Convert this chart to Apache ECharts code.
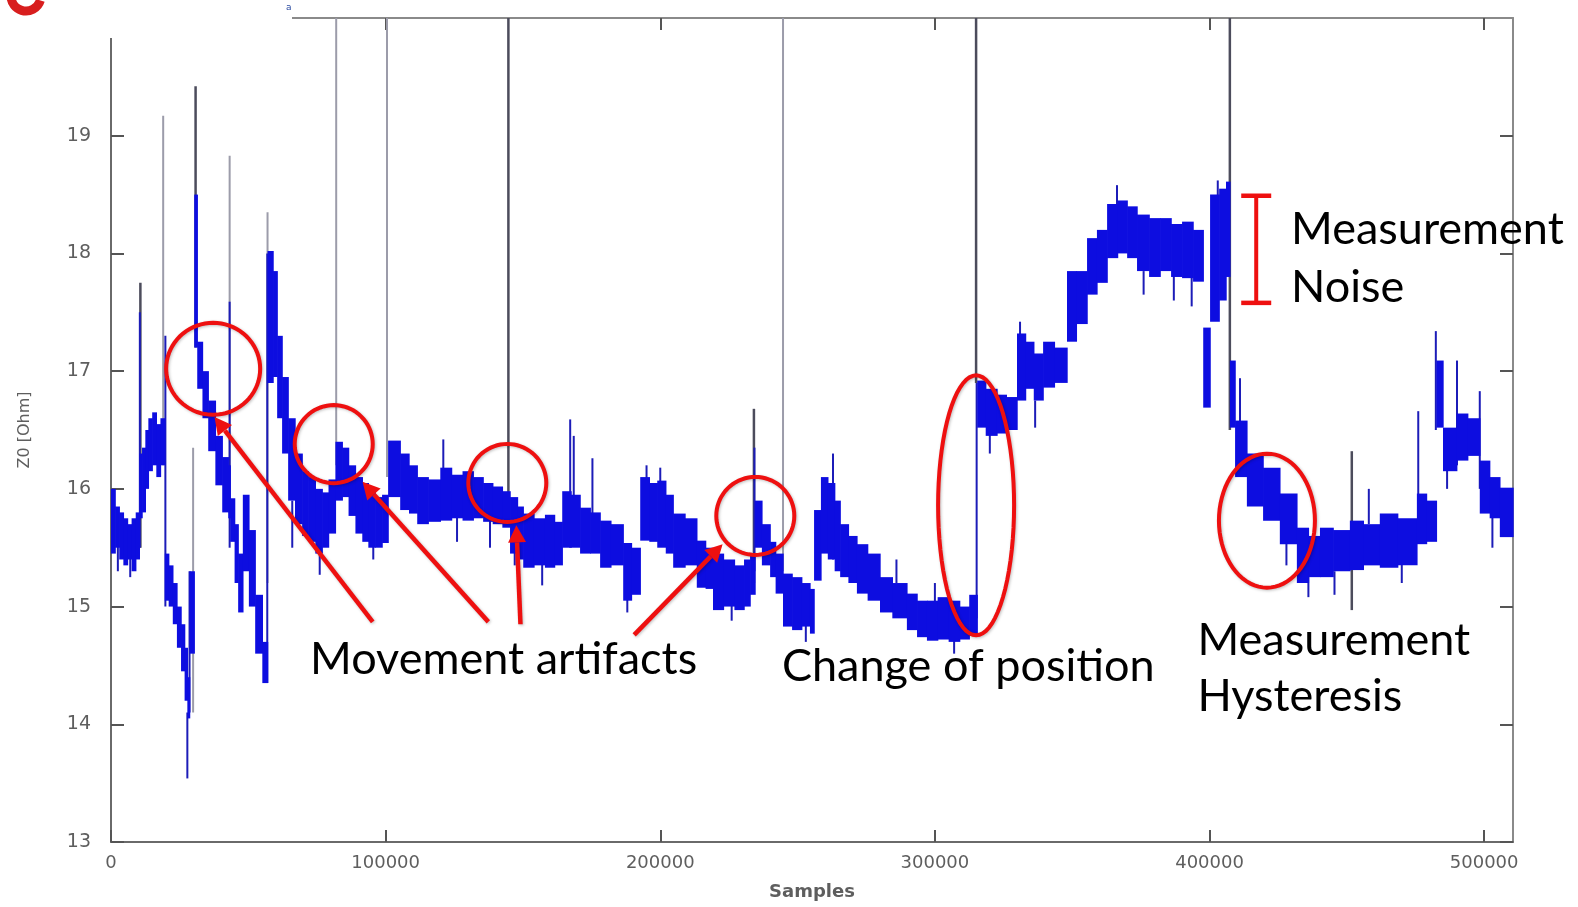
<!DOCTYPE html>
<html><head><meta charset="utf-8">
<script src="https://cdn.jsdelivr.net/npm/echarts@6/dist/echarts.min.js"></script>
<style>html,body{margin:0;padding:0;background:#fff}#c{width:1578px;height:907px}</style>
</head><body><div id="c"></div><script>
// ---- axis ticks ----
const xTicks = [0, 100000, 200000, 300000, 400000, 500000];
const yTicks = [13, 14, 15, 16, 17, 18, 19];
const X_MIN = 0, X_MAX = 510500, Y_MIN = 13, Y_MAX = 20;

// ---- Z0 signal: noise band per column (start sample, low, high) ----
const bandX = [0,1500,3000,4500,6000,7500,9000,10300,11300,12500,13600,15000,16500,18000,19600,21000,22500,24000,25500,26800,27800,28600,30300,31400,33300,35400,38000,40500,42700,43400,45000,46300,48000,50200,52500,55100,57000,59000,60500,62300,64500,67000,69600,71800,74400,76900,79200,81700,84200,86500,89000,91500,93700,96200,98700,100900,105300,108500,111500,115500,119900,124000,128000,131900,135500,139000,142500,145300,148000,150100,154000,158000,161500,164300,167500,170800,174500,178100,182000,186500,189500,192700,196000,198900,202000,204700,209000,213300,216500,219200,223000,227000,230500,232700,234500,237000,240000,242000,244700,248000,251500,254500,256000,258500,261000,263500,265500,268500,271600,275500,280000,284500,289800,293500,297100,301000,305000,309000,312500,315400,318500,322600,326000,329900,333000,336000,339400,343500,348100,351500,355400,359000,362700,366500,370000,373600,378000,382000,386000,390000,394000,397700,400200,403500,406000,407400,409300,413600,419500,425600,431800,436000,440200,445000,451100,456000,462000,468500,475500,479000,482600,485000,490000,494000,498400,502000,505700];
const bandLo = [15.45,15.5,15.4,15.35,15.4,15.3,15.4,15.75,15.8,16.0,16.15,16.2,16.1,16.2,15.05,15.0,14.85,14.65,14.45,14.2,14.05,14.6,17.2,16.85,16.6,16.32,16.03,15.8,15.75,15.55,15.2,14.95,15.3,15.0,14.6,14.35,16.9,16.95,16.6,16.3,15.9,15.7,15.6,15.55,15.45,15.5,15.62,15.9,15.93,15.77,15.62,15.55,15.5,15.5,15.54,15.93,15.82,15.79,15.7,15.72,15.73,15.75,15.73,15.75,15.72,15.7,15.67,15.45,15.4,15.33,15.35,15.33,15.35,15.5,15.5,15.45,15.45,15.33,15.35,15.05,15.1,15.56,15.55,15.5,15.45,15.33,15.35,15.16,15.15,14.97,15.0,14.97,15.0,15.1,15.5,15.35,15.25,15.11,14.83,14.8,14.83,14.77,15.22,15.45,15.4,15.3,15.25,15.2,15.11,15.05,14.95,14.9,14.8,14.74,14.71,14.72,14.7,14.72,14.75,16.52,16.45,16.47,16.5,16.75,16.85,16.75,16.86,16.9,17.25,17.4,17.65,17.75,17.96,18.0,17.96,17.85,17.8,17.85,17.8,17.79,17.76,16.69,17.42,17.6,17.8,16.52,16.1,15.85,15.73,15.53,15.2,15.25,15.25,15.3,15.31,15.35,15.33,15.35,15.53,15.55,16.52,16.15,16.24,16.28,15.79,15.75,15.59];
const bandHi = [16.0,15.85,15.8,15.75,15.7,15.75,15.8,16.3,16.35,16.5,16.6,16.65,16.55,16.6,15.45,15.35,15.2,15.0,14.85,14.65,14.4,15.3,18.5,17.25,17.0,16.75,16.45,16.27,16.2,15.92,15.7,15.45,15.95,15.65,15.1,14.7,18.02,17.85,17.3,16.95,16.6,16.3,16.15,16.1,16.0,15.97,16.08,16.4,16.35,16.2,16.1,16.05,16.0,15.93,15.95,16.41,16.3,16.2,16.1,16.08,16.18,16.12,16.15,16.1,16.05,16.02,15.98,15.93,15.85,15.79,15.75,15.78,15.72,15.98,15.95,15.84,15.8,15.73,15.7,15.54,15.5,16.1,16.05,16.07,15.95,15.79,15.75,15.56,15.5,15.45,15.4,15.35,15.4,15.45,15.9,15.7,15.55,15.45,15.28,15.25,15.2,15.15,15.82,16.1,16.05,15.9,15.7,15.6,15.53,15.45,15.25,15.2,15.11,15.05,15.05,15.08,15.05,15.0,15.1,16.92,16.85,16.8,16.78,17.32,17.25,17.15,17.25,17.2,17.85,17.85,18.13,18.2,18.42,18.45,18.4,18.33,18.3,18.3,18.25,18.27,18.2,17.37,18.5,18.55,18.61,17.09,16.58,16.3,16.18,15.96,15.67,15.6,15.67,15.65,15.73,15.7,15.79,15.75,15.96,15.9,17.09,16.52,16.64,16.6,16.24,16.1,16.01];

// ---- single noise spikes of the trace (sample, low, high) ----
const blueX = [2500,7000,10500,19800,27800,28600,43200,56900,66000,76000,95500,121000,126000,138000,147000,157000,167200,168500,175300,188000,195000,200000,226000,234300,253000,262900,286000,300000,307000,315200,320000,331000,336500,366300,376000,387000,393500,403000,411100,428000,436000,445500,458000,470000,476000,482400,486500,490100,498400,503000];
const blueLo = [15.3,15.25,15.5,15.0,13.54,14.1,15.5,14.35,15.5,15.27,15.4,16.0,15.55,15.5,15.35,15.18,15.5,15.9,15.5,14.95,16.0,16.0,14.88,15.3,14.7,15.4,15.2,15.0,14.6,14.9,16.3,17.2,16.52,18.2,17.65,17.6,17.55,17.6,16.5,15.35,15.08,15.1,15.7,15.2,15.6,16.5,16.0,16.2,16.0,15.5];
const blueHi = [15.6,15.5,17.5,17.3,14.1,15.3,17.59,18.0,15.9,15.6,15.7,16.42,15.8,15.8,15.55,15.4,16.59,16.45,16.26,15.15,16.2,16.18,15.1,16.35,14.85,16.3,15.4,15.2,14.75,16.9,16.5,17.42,16.75,18.58,17.85,17.85,17.8,18.62,16.94,15.6,15.3,15.3,16.0,15.4,16.66,17.34,16.3,17.09,16.83,15.8];
// light grey artifact lines
const grayX = [19000, 29900, 43200, 57000, 82000, 100500, 244700];
const grayLo = [16.2, 14.1, 15.8, 15.2, 16.2, 16.1, 15.3];
const grayHi = [19.17, 16.35, 18.83, 18.35, 20, 20, 20];
// dark grey artifact lines
const darkX = [10700, 30800, 144700, 234100, 315000, 407400, 451800];
const darkLo = [15.5, 17.2, 15.9, 15.2, 16.9, 16.5, 14.97];
const darkHi = [17.75, 19.42, 20, 16.68, 20, 20, 16.32];

// ---- annotations (data coordinates) ----
const ellCX = [37200, 81100, 144300, 234600, 315000, 420900];
const ellCY = [17.02, 16.38, 16.05, 15.77, 15.86, 15.73];
const arrowFromX = [95300, 137400, 149100, 190500];
const arrowFromY = [14.87, 14.87, 14.85, 14.76];
const arrowToX = [37700, 91600, 147600, 222700];
const arrowToY = [16.61, 16.06, 15.69, 15.53];
const noiseBarX = 417000, noiseBarLo = 17.58, noiseBarHi = 18.49;
const labelText = ['Movement artifacts', 'Change of position', 'Measurement', 'Noise', 'Measurement', 'Hysteresis'];
const labelX = [72500, 244300, 429700, 429700, 395600, 395600];
const labelY = [14.44, 14.38, 18.09, 17.60, 14.60, 14.12];

// ---- styling (pixels) ----
const ellRX = [47, 39, 39, 39, 38, 48];
const ellRY = [46, 39, 39, 39, 130, 67];
const BLUE = '#0d0de0', RED = '#ee1010';

const chart = echarts.init(document.getElementById('c'), null, {renderer: 'canvas'});

const bandData = bandX.map((x, i) => [x, i + 1 < bandX.length ? bandX[i + 1] : X_MAX, bandLo[i], bandHi[i]]);
const mk = (xs, lo, hi) => xs.map((x, i) => [x, lo[i], hi[i]]);

function lineSeries(name, data, color, width) {
  return {
    type: 'custom', name, data, z: 3,
    encode: {x: 0, y: [1, 2]},
    renderItem: (p, api) => {
      const a = api.coord([api.value(0), api.value(1)]);
      const b = api.coord([api.value(0), api.value(2)]);
      return {type: 'line', shape: {x1: a[0], y1: a[1], x2: b[0], y2: b[1]}, style: {stroke: color, lineWidth: width}};
    }
  };
}

const axisLabelStyle = {color: '#5e5e5e', fontFamily: 'DejaVu Sans', fontSize: 18, formatter: v => String(v)};
chart.setOption({
  animation: false,
  backgroundColor: '#fff',
  grid: {left: 111, right: 65, top: 18, bottom: 65, containLabel: false},
  xAxis: [{
    type: 'value', min: X_MIN, max: X_MAX, position: 'bottom',
    axisLine: {show: true, onZero: false, lineStyle: {color: '#6a6a6a', width: 2}},
    axisTick: {show: true, inside: true, length: 12, customValues: xTicks, lineStyle: {color: '#555', width: 2}},
    axisLabel: {customValues: xTicks, margin: 12, ...axisLabelStyle},
    splitLine: {show: false},
    name: 'Samples', nameLocation: 'middle', nameGap: 41,
    nameTextStyle: {color: '#5e5e5e', fontFamily: 'DejaVu Sans', fontSize: 18, fontWeight: 'bold'}
  }, {
    type: 'value', min: X_MIN, max: X_MAX, position: 'top',
    axisLine: {show: true, onZero: false, lineStyle: {color: '#8a8a8a', width: 2}},
    axisTick: {show: true, inside: true, length: 12, customValues: xTicks, lineStyle: {color: '#555', width: 2}},
    axisLabel: {show: false}, splitLine: {show: false}
  }],
  yAxis: [{
    type: 'value', min: Y_MIN, max: Y_MAX, position: 'left',
    axisLine: {show: true, onZero: false, lineStyle: {color: '#6a6a6a', width: 2}},
    axisTick: {show: true, inside: true, length: 13, customValues: yTicks, lineStyle: {color: '#555', width: 2}},
    axisLabel: {customValues: yTicks, margin: 20, ...axisLabelStyle, fontSize: 19},
    splitLine: {show: false},
    name: 'Z0 [Ohm]', nameLocation: 'middle', nameGap: 78, nameRotate: 90,
    nameTextStyle: {color: '#5e5e5e', fontFamily: 'DejaVu Sans', fontSize: 16}
  }, {
    type: 'value', min: Y_MIN, max: Y_MAX, position: 'right',
    axisLine: {show: true, onZero: false, lineStyle: {color: '#8a8a8a', width: 2}},
    axisTick: {show: true, inside: true, length: 13, customValues: yTicks, lineStyle: {color: '#555', width: 2}},
    axisLabel: {show: false}, splitLine: {show: false}
  }],
  series: [
    lineSeries('grey', mk(grayX, grayLo, grayHi), '#9c9caa', 2),
    lineSeries('dark', mk(darkX, darkLo, darkHi), '#4c4c5c', 2.5),
    {
      type: 'custom', name: 'Z0', data: bandData, z: 4,
      encode: {x: [0, 1], y: [2, 3]},
      renderItem: (p, api) => {
        const a = api.coord([api.value(0), api.value(3)]);
        const b = api.coord([api.value(1), api.value(2)]);
        return {type: 'rect', shape: {x: a[0], y: a[1], width: b[0] - a[0] + 0.7, height: b[1] - a[1]}, style: {fill: BLUE}};
      }
    },
    lineSeries('spikes', mk(blueX, blueLo, blueHi), '#1c1cb8', 2)
  ]
});

// annotations
const px = (x, y) => chart.convertToPixel({gridIndex: 0}, [x, y]);
const g = [];
// top-left cover with logo fragments
g.push({type: 'rect', shape: {x: 0, y: 0, width: 292, height: 38}, style: {fill: '#fff'}, z: 50});
g.push({type: 'arc', shape: {cx: 26, cy: -4, r: 15, startAngle: 0.3, endAngle: Math.PI - 0.05}, style: {stroke: '#d81e1e', lineWidth: 9, fill: null}, z: 51});
g.push({type: 'text', x: 286, y: 3, style: {text: 'a', fill: '#2a4aa0', font: '9px "DejaVu Sans"'}, z: 51});

ellCX.forEach((cx, i) => {
  const c = px(cx, ellCY[i]);
  const pts = [];
  for (let k = 0; k < 72; k++) { const t = k / 72 * 2 * Math.PI; pts.push([c[0] + ellRX[i] * Math.cos(t), c[1] + ellRY[i] * Math.sin(t)]); }
  g.push({type: 'polygon', shape: {points: pts}, style: {fill: null, stroke: RED, lineWidth: 4, shadowBlur: 3, shadowColor: 'rgba(0,0,0,0.25)', shadowOffsetX: 1, shadowOffsetY: 1}, z: 60});
});
arrowFromX.forEach((fx, i) => {
  const a = px(fx, arrowFromY[i]);
  const b = px(arrowToX[i], arrowToY[i]);
  const dx = b[0] - a[0], dy = b[1] - a[1], L = Math.hypot(dx, dy), ux = dx / L, uy = dy / L;
  const hl = 17, hw = 9;
  const base = [b[0] - ux * hl, b[1] - uy * hl];
  g.push({type: 'line', shape: {x1: a[0], y1: a[1], x2: base[0], y2: base[1]}, style: {stroke: RED, lineWidth: 4.5, shadowBlur: 3, shadowColor: 'rgba(0,0,0,0.25)', shadowOffsetX: 1, shadowOffsetY: 1}, z: 60});
  g.push({type: 'polygon', shape: {points: [b, [base[0] - uy * hw, base[1] + ux * hw], [base[0] + uy * hw, base[1] - ux * hw]]}, style: {fill: RED}, z: 60});
});
{
  const t = px(noiseBarX, noiseBarHi), b = px(noiseBarX, noiseBarLo);
  g.push({type: 'line', shape: {x1: t[0], y1: t[1], x2: b[0], y2: b[1]}, style: {stroke: RED, lineWidth: 4}, z: 60});
  g.push({type: 'line', shape: {x1: t[0] - 15, y1: t[1], x2: t[0] + 15, y2: t[1]}, style: {stroke: RED, lineWidth: 4.5}, z: 60});
  g.push({type: 'line', shape: {x1: b[0] - 15, y1: b[1], x2: b[0] + 15, y2: b[1]}, style: {stroke: RED, lineWidth: 4.5}, z: 60});
}
// label Y values are text baselines; text is drawn top-aligned, so shift up by the font's baseline offset
labelText.forEach((t, i) => {
  const p = px(labelX[i], labelY[i]);
  g.push({type: 'text', x: p[0], y: p[1] - 36, style: {text: t, fill: '#000', font: '45px Lato', align: 'left', verticalAlign: 'top'}, z: 61});
});
chart.setOption({graphic: g});
</script></body></html>
